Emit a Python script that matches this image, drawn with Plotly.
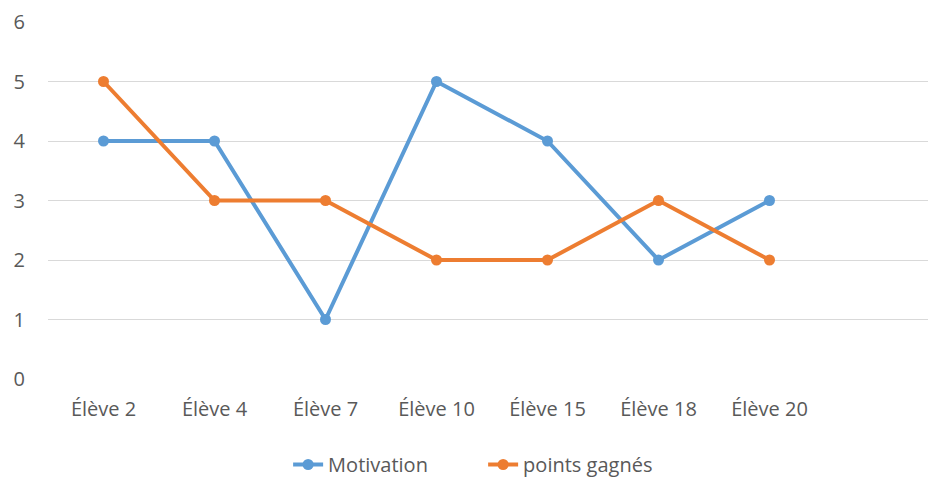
import plotly.graph_objects as go

categories = ["Élève 2", "Élève 4", "Élève 7", "Élève 10", "Élève 15", "Élève 18", "Élève 20"]
motivation = [4, 4, 1, 5, 4, 2, 3]
points_gagnes = [5, 3, 3, 2, 2, 3, 2]
y_ticks = [0, 1, 2, 3, 4, 5, 6]

xpos = list(range(len(categories)))
font_fam = "Open Sans"
gray = "#595959"

fig = go.Figure()
fig.add_trace(go.Scatter(x=xpos, y=motivation, mode="lines+markers", name="Motivation",
                         line=dict(color="#5B9BD5", width=4),
                         marker=dict(color="#5B9BD5", size=11)))
fig.add_trace(go.Scatter(x=xpos, y=points_gagnes, mode="lines+markers", name="points gagnés",
                         line=dict(color="#ED7D31", width=4),
                         marker=dict(color="#ED7D31", size=11)))

# page body has an 8px default margin, so the figure is sized to fit the window
fig.update_layout(
    width=928, height=476,
    margin=dict(l=40, r=0, t=14, b=104),
    paper_bgcolor="white", plot_bgcolor="white",
    font=dict(family=font_fam, size=20, color=gray),
    showlegend=True,
    legend=dict(orientation="h", x=0.49, xanchor="center", y=-0.24, yanchor="middle",
                font=dict(size=20, color=gray), tracegroupgap=0, entrywidth=150),
    xaxis=dict(range=[-0.5, 7.5], tickmode="array", tickvals=xpos, ticktext=categories,
               showgrid=False, zeroline=False, showline=False, ticks="",
               ticklabelstandoff=16, automargin=False, fixedrange=True),
    yaxis=dict(range=[0, 6], tickmode="array", tickvals=y_ticks,
               showgrid=True, gridcolor="#D9D9D9", gridwidth=1,
               zeroline=False, showline=False, ticks="",
               ticklabelstandoff=22, automargin=False, fixedrange=True),
)

fig.write_html("out.html")
